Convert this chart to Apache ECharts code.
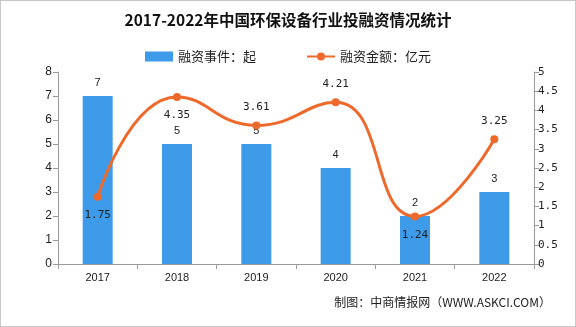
<!DOCTYPE html>
<html>
<head>
<meta charset="utf-8">
<script src="https://cdn.jsdelivr.net/npm/echarts@6/dist/echarts.min.js"></script>
<style>
html,body{margin:0;padding:0;background:#fff;}
#wrap{position:relative;width:576px;height:327px;box-sizing:border-box;border:1px solid #c8c8c8;}
#chart{position:absolute;left:0;top:0;width:574px;height:325px;}
</style>
</head>
<body>
<div id="wrap"><div id="chart"></div></div>
<script>
// 2017-2022 环保设备行业投融资
const years = ['2017', '2018', '2019', '2020', '2021', '2022'];
const dealCounts = [7, 5, 5, 4, 2, 3];          // 融资事件：起
const dealAmounts = [1.75, 4.35, 3.61, 4.21, 1.24, 3.25]; // 融资金额：亿元
const amountLabelPos = ['bottom', 'bottom', 'top', 'top', 'bottom', 'top'];

const chart = echarts.init(document.getElementById('chart'));
const axisGray = '#9a9a9a';
const txt = '#222';

chart.setOption({
  animation: false,
  title: {
    text: '2017-2022年中国环保设备行业投融资情况统计',
    left: 'center',
    top: 6,
    textStyle: { fontFamily: 'Noto Sans CJK SC', fontWeight: 'bold', fontSize: 15.5, color: '#111' }
  },
  legend: {
    top: 44,
    left: 'center',
    itemGap: 50,
    itemWidth: 28,
    itemHeight: 10,
    textStyle: { fontFamily: 'Noto Sans CJK SC', fontSize: 13, color: txt },
    data: [
      { name: '融资事件：起', icon: 'rect' },
      { name: '融资金额：亿元' }
    ]
  },
  grid: { left: 57, right: 41, top: 71, bottom: 62 },
  xAxis: {
    type: 'category',
    data: years,
    axisLine: { lineStyle: { color: axisGray } },
    axisTick: { show: true, alignWithLabel: false, lineStyle: { color: axisGray } },
    axisLabel: { fontFamily: 'Liberation Sans', fontSize: 11, color: txt, margin: 8 }
  },
  yAxis: [
    {
      type: 'value', min: 0, max: 8, interval: 1,
      splitLine: { show: false },
      axisLine: { show: true, lineStyle: { color: axisGray } },
      axisTick: { show: true, lineStyle: { color: axisGray } },
      axisLabel: { fontFamily: 'Liberation Sans', fontSize: 12, color: txt, margin: 6 }
    },
    {
      type: 'value', min: 0, max: 5, interval: 0.5,
      splitLine: { show: false },
      axisLine: { show: true, lineStyle: { color: axisGray } },
      axisTick: { show: true, lineStyle: { color: axisGray } },
      axisLabel: { fontFamily: 'DejaVu Sans Mono', fontSize: 11, color: txt, margin: 4 }
    }
  ],
  series: [
    {
      name: '融资事件：起',
      type: 'bar',
      data: dealCounts,
      barWidth: 30,
      itemStyle: { color: '#3d9be9' },
      label: { show: true, position: 'top', distance: 8, fontFamily: 'Liberation Sans', fontSize: 11, color: txt }
    },
    {
      name: '融资金额：亿元',
      type: 'line',
      yAxisIndex: 1,
      smooth: 0.5,
      data: dealAmounts.map((v, i) => ({
        value: v,
        label: { position: amountLabelPos[i] }
      })),
      symbol: 'circle',
      symbolSize: 8,
      lineStyle: { color: '#ee6a2c', width: 3 },
      itemStyle: { color: '#ee6a2c' },
      label: { show: true, distance: 9, fontFamily: 'DejaVu Sans Mono', fontSize: 11, color: txt }
    }
  ],
  graphic: [
    {
      type: 'text',
      right: 24,
      top: 295,
      style: { text: '制图：中商情报网（WWW.ASKCI.COM）', font: '12px "Noto Sans CJK SC"', fill: '#222' }
    }
  ]
});
</script>
</body>
</html>
